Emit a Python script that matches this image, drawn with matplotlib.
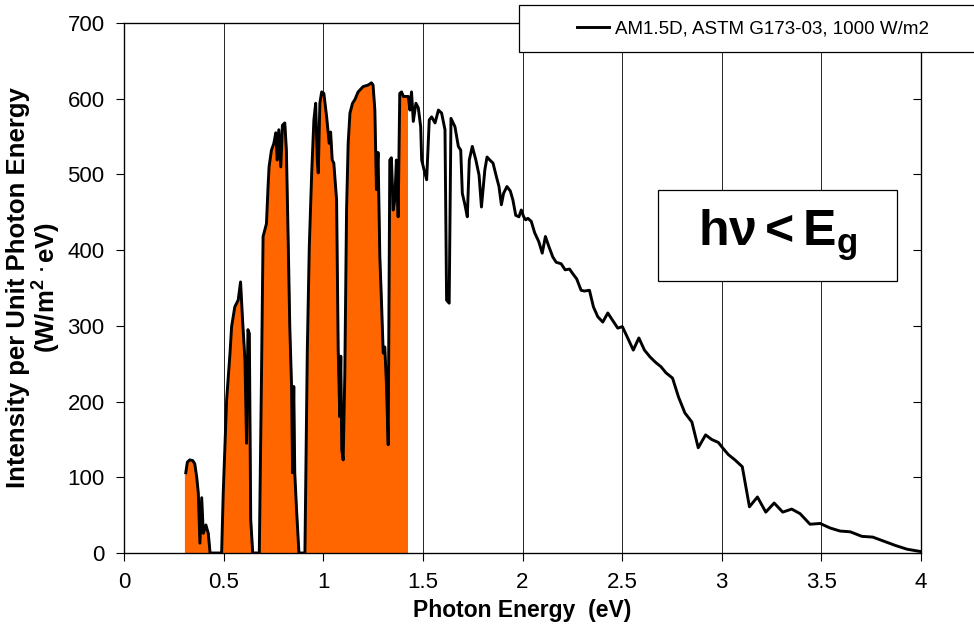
import numpy as np
import matplotlib
matplotlib.use("Agg")
import matplotlib.pyplot as plt
from matplotlib.patches import Rectangle

plt.rcParams['font.family'] = ['Liberation Sans', 'DejaVu Sans']
plt.rcParams['mathtext.fontset'] = 'custom'
plt.rcParams['mathtext.rm'] = 'Liberation Sans'
plt.rcParams['mathtext.bf'] = 'Liberation Sans:bold'
plt.rcParams['mathtext.it'] = 'Liberation Sans:italic'

# AM1.5D spectrum (eV, W/m2/eV)
energy = [0.310, 0.318, 0.330, 0.345, 0.355, 0.365, 0.373, 0.381, 0.390, 0.398,
          0.411, 0.423, 0.432, 0.490, 0.498, 0.515, 0.532, 0.540, 0.556, 0.573,
          0.585, 0.595, 0.607, 0.615, 0.622, 0.629, 0.636, 0.646, 0.679, 0.690,
          0.698, 0.715, 0.723, 0.728, 0.740, 0.752, 0.762, 0.769, 0.777, 0.787,
          0.795, 0.807, 0.815, 0.824, 0.832, 0.841, 0.846, 0.852, 0.857, 0.866,
          0.878, 0.908, 0.920, 0.930, 0.942, 0.953, 0.962, 0.970, 0.975, 0.983,
          0.992, 1.003, 1.017, 1.030, 1.037, 1.045, 1.053, 1.058, 1.067, 1.075,
          1.083, 1.088, 1.093, 1.100, 1.108, 1.117, 1.125, 1.134, 1.147, 1.159,
          1.175, 1.200, 1.225, 1.242, 1.250, 1.259, 1.267, 1.275, 1.284, 1.292,
          1.301, 1.309, 1.317, 1.326, 1.334, 1.342, 1.351, 1.359, 1.367, 1.376,
          1.384, 1.393, 1.402, 1.427, 1.435, 1.443, 1.452, 1.465, 1.477, 1.489,
          1.494, 1.506, 1.519, 1.532, 1.544, 1.561, 1.578, 1.594, 1.611, 1.619,
          1.632, 1.641, 1.661, 1.678, 1.690, 1.698, 1.711, 1.723, 1.733, 1.748,
          1.766, 1.782, 1.794, 1.811, 1.822, 1.836, 1.852, 1.869, 1.882, 1.894,
          1.905, 1.922, 1.939, 1.952, 1.966, 1.982, 1.994, 2.006, 2.016, 2.027,
          2.044, 2.061, 2.082, 2.099, 2.115, 2.132, 2.152, 2.169, 2.194, 2.214,
          2.236, 2.252, 2.272, 2.294, 2.311, 2.336, 2.356, 2.378, 2.403, 2.428,
          2.453, 2.478, 2.501, 2.528, 2.556, 2.584, 2.612, 2.640, 2.667, 2.695,
          2.720, 2.753, 2.783, 2.815, 2.850, 2.882, 2.919, 2.949, 2.983, 3.004,
          3.033, 3.066, 3.103, 3.139, 3.179, 3.221, 3.263, 3.306, 3.351, 3.393,
          3.443, 3.494, 3.544, 3.594, 3.645, 3.703, 3.758, 3.820, 3.871, 3.930,
          3.997]
intensity = [106, 120, 123, 122, 118, 100, 79, 13, 73, 26,
             37, 26, 0, 0, 79, 202, 264, 299, 325, 334,
             358, 308, 255, 145, 295, 290, 44, 0, 0, 233,
             418, 435, 484, 510, 532, 541, 555, 519, 559, 510,
             565, 568, 532, 413, 299, 220, 106, 220, 106, 57,
             0, 0, 268, 405, 502, 572, 594, 519, 502, 594,
             609, 607, 576, 541, 556, 519, 515, 497, 466, 268,
             180, 260, 136, 123, 233, 453, 541, 581, 594, 599,
             609, 616, 618, 621, 618, 585, 480, 529, 391, 334,
             264, 272, 224, 143, 519, 522, 453, 466, 519, 444,
             607, 609, 603, 603, 585, 609, 570, 594, 588, 563,
             519, 506, 493, 572, 576, 568, 585, 581, 559, 334,
             330, 574, 563, 537, 532, 475, 460, 444, 519, 537,
             519, 499, 457, 506, 523, 519, 515, 497, 484, 460,
             475, 484, 478, 466, 446, 444, 453, 444, 440, 442,
             438, 423, 411, 396, 418, 405, 391, 384, 382, 374,
             375, 369, 362, 347, 346, 347, 325, 312, 305, 317,
             307, 297, 299, 284, 268, 284, 268, 259, 252, 246,
             238, 231, 206, 185, 173, 139, 156, 150, 146, 139,
             130, 123, 114, 61, 74, 54, 66, 54, 58, 52,
             38, 39, 33, 29, 28, 22, 21, 15, 10, 5,
             2]

band_gap = 1.42  # photons below this are shaded
x_ticks = [0, 0.5, 1, 1.5, 2, 2.5, 3, 3.5, 4]
x_tick_labels = ['0', '0.5', '1', '1.5', '2', '2.5', '3', '3.5', '4']
y_ticks = [0, 100, 200, 300, 400, 500, 600, 700]

orange = '#FF6600'

x = np.array(energy)
y = np.array(intensity, dtype=float)

fig = plt.figure(figsize=(9.74, 6.42), dpi=100)
ax = fig.add_axes([124 / 974, 1 - 553 / 642, (921 - 124) / 974, (553 - 23) / 642])

# shaded part below the band gap
m = x <= band_gap
xf = np.concatenate([[x[0] - 0.004], x[m], [band_gap]])
yf = np.concatenate([[y[0]], y[m], [np.interp(band_gap, x, y)]])
ax.fill_between(xf, 0, yf, color=orange, lw=0.8, edgecolor=orange, zorder=2)

ax.plot(x, y, color='black', lw=2.1, zorder=3, label='AM1.5D, ASTM G173-03, 1000 W/m2')

ax.set_xlim(0, 4)
ax.set_ylim(0, 700)
ax.set_xticks(x_ticks)
ax.set_xticklabels(x_tick_labels)
ax.set_yticks(y_ticks)
ax.grid(axis='x', color='black', lw=0.6, zorder=1)
ax.tick_params(axis='both', labelsize=16, length=6, width=0.8, direction='out', pad=8)
for s in ax.spines.values():
    s.set_linewidth(0.9)

# inward ticks on the right side
ax2 = ax.twinx()
ax2.set_ylim(0, 700)
ax2.set_yticks(y_ticks)
ax2.tick_params(axis='y', direction='in', length=6, width=0.8, labelright=False)

ax.set_xlabel('Photon Energy  (eV)', fontsize=16.5, fontweight='bold', labelpad=4)
ax.set_ylabel('Intensity per Unit Photon Energy\n' + r'(W/m$^{\mathbf{2}}$ $^{\mathbf{.}}$eV)',
              fontsize=18.5, fontweight='bold', linespacing=1.05)
ax.yaxis.set_label_coords(-0.076, 0.5)

# hν < Eg box
ax.add_patch(Rectangle((2.68, 359), 1.2, 121, transform=ax.transData,
                       facecolor='white', edgecolor='black', lw=0.9, zorder=4))
ax.text(3.28, 419, r'$\mathbf{h\nu < E_g}$', fontsize=36, ha='center', va='center', zorder=5)

# legend box across the top right
fig.patches.append(Rectangle((519 / 974, 1 - 52 / 642), (976 - 519) / 974, 47 / 642,
                             transform=fig.transFigure, facecolor='white',
                             edgecolor='black', lw=0.9, zorder=4))
handles, labels = ax.get_legend_handles_labels()
fig.legend(handles=handles, labels=labels,
           loc='center', bbox_to_anchor=(753 / 974, 1 - 28.5 / 642), frameon=False,
           fontsize=13.5, handlelength=1.7, handletextpad=0.3)

fig.savefig('out.png', dpi=100)
